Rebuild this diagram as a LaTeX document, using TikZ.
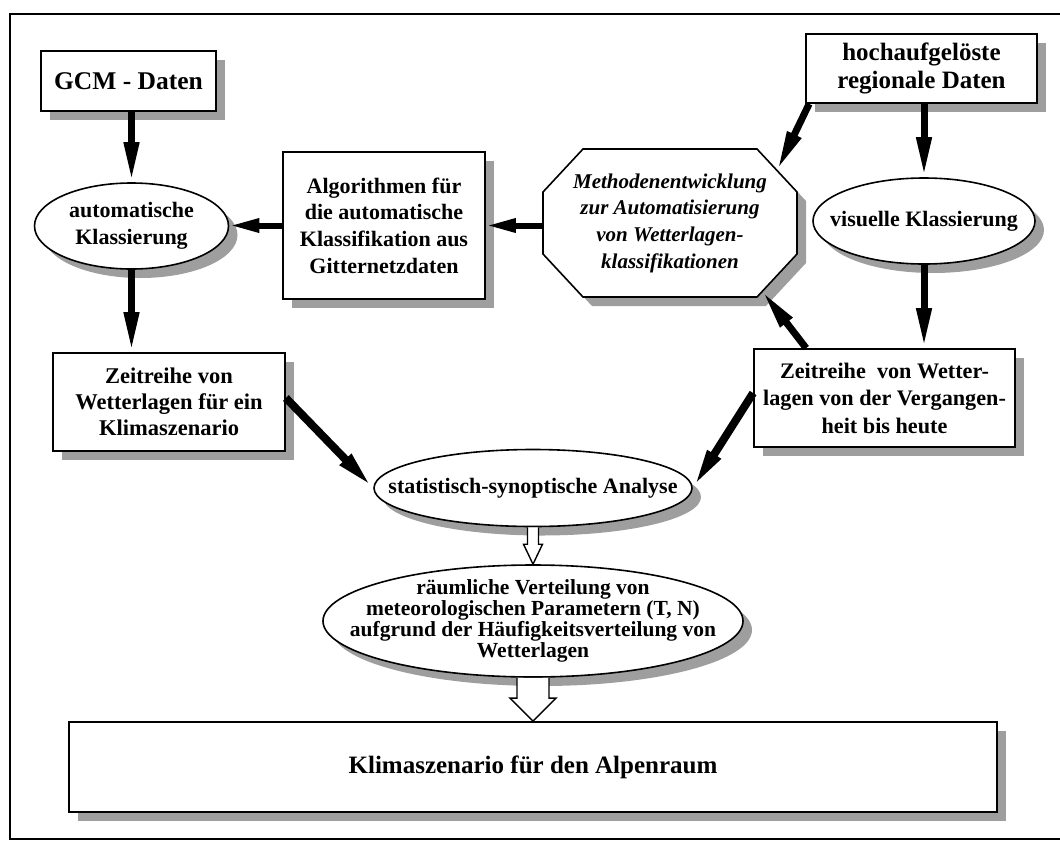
\documentclass[tikz,border=0pt]{standalone}
\usepackage{fontspec}
\setmainfont{Liberation Serif}
\usetikzlibrary{arrows.meta,shapes.geometric,shadows,calc}

\begin{document}
\begin{tikzpicture}[x=1pt,y=-1pt,
  shadowfill/.style={fill=black!38},
  dshadow/.style={drop shadow={shadow xshift=9pt,shadow yshift=-9pt,fill=black!38,opacity=1}},
  box/.style={draw,line width=1.8pt,fill=white,inner sep=0pt,align=center,font=\bfseries,dshadow},
  oval/.style={ellipse,draw,line width=1.6pt,fill=white,inner sep=0pt,dshadow},
  label text/.style={inner sep=0pt,align=center,font=\bfseries},
  flow/.style={line width=7pt,-{Triangle[length=40pt,width=14pt]}},
  flowh/.style={line width=6pt,-{Triangle[length=30pt,width=13pt]}},
  hollow/.style={draw,line width=1.4pt,fill=white,line join=miter}
]
\useasboundingbox (0,0) rectangle (1060,841);

% outer frame
\draw[line width=1.8pt] (10,14) rectangle (1085,839);

% rectangular boxes
\node[box,minimum width=175pt,minimum height=60pt,font=\bfseries\fontsize{25.5}{28}\selectfont]
  (gcm) at (128.5,81) {GCM - Daten};
\node[box,minimum width=231pt,minimum height=69pt,font=\bfseries\fontsize{25}{28}\selectfont]
  (hoch) at (921.5,68.5) {hochaufgelöste\\regionale Daten};
\node[box,minimum width=202pt,minimum height=147pt,font=\bfseries\fontsize{22}{26.7}\selectfont]
  (algo) at (384,225.5) {Algorithmen für\\die automatische\\Klassifikation aus\\Gitternetzdaten};
\node[box,minimum width=232pt,minimum height=98pt,font=\bfseries\fontsize{22.5}{26}\selectfont]
  (zl) at (169,402) {Zeitreihe von\\Wetterlagen für ein\\Klimaszenario};
\node[box,minimum width=261pt,minimum height=98pt,font=\bfseries\fontsize{22.2}{27.5}\selectfont]
  (zr) at (884.5,398) {Zeitreihe~ von Wetter-\\lagen von der Vergangen-\\heit bis heute};
\node[box,minimum width=928pt,minimum height=90pt,font=\bfseries\fontsize{25}{28}\selectfont]
  (klima) at (533,767) {Klimaszenario für den Alpenraum};

% octagon
\fill[shadowfill,shift={(9,9)}]
  (543,192) -- (583,149) -- (757,149) -- (797,192) -- (797,254) -- (757,297) -- (583,297) -- (543,254) -- cycle;
\draw[line width=1.6pt,fill=white]
  (543,192) -- (583,149) -- (757,149) -- (797,192) -- (797,254) -- (757,297) -- (583,297) -- (543,254) -- cycle;
\node[inner sep=0pt,minimum width=254pt,minimum height=148pt,align=center,
      font=\bfseries\itshape\fontsize{21}{26.7}\selectfont]
  (oct) at (670,223) {Methodenentwicklung\\zur Automatisierung\\von Wetterlagen-\\klassifikationen};
\coordinate (octNE) at (777,170.5);
\coordinate (octSE) at (762,291);

% ellipses
\node[oval,minimum width=194pt,minimum height=86pt] (auto) at (131.5,226) {};
\node[label text,font=\bfseries\fontsize{22}{26.5}\selectfont] (autoT) at (auto) {automatische\\Klassierung};
\node[oval,minimum width=222pt,minimum height=86pt] (vis) at (924,221) {};
\node[label text,font=\bfseries\fontsize{22}{26.5}\selectfont] (visT) at (vis) {visuelle Klassierung};
\node[oval,minimum width=318pt,minimum height=77pt] (stat) at (533,488) {};
\node[label text,font=\bfseries\fontsize{22}{26.5}\selectfont] (statT) at (stat) {statistisch-synoptische Analyse};
\node[oval,minimum width=420pt,minimum height=112pt] (raum) at (533,621) {};
\node[label text,font=\bfseries\fontsize{21.5}{18.8}\selectfont] (raumT) at (raum)
  {räumliche Verteilung von\\meteorologischen Parametern (T, N)\\aufgrund der Häufigkeitsverteilung von\\Wetterlagen};

% solid connectors
\draw[flow] (gcm.south -| auto.north) -- (auto.north);
\draw[flow] (hoch.south -| vis.north) -- (vis.north);
\draw[flow] ($(hoch.south west)+(4,0)$) -- (octNE);
\draw[flowh] (oct.west |- algo.east) -- (algo.east);
\draw[flowh] (algo.west) -- (algo.west -| auto.east);
\draw[flow] (auto.south) -- (auto.south |- zl.north);
\draw[flow] (vis.south) -- (vis.south |- zr.north);
\draw[flow] ($(zr.north west)+(53,0)$) -- (octSE);
\draw[flow,line width=8pt] ($(zl.east)+(0,-4)$) -- (stat.west);
\draw[flow,line width=8pt] ($(zr.west)+(0,-5)$) -- (stat.east);

% hollow connectors
\draw[hollow] ($(stat.south)+(-5.5,0)$) -- ($(raum.north)+(-5.5,-20)$) -- ($(raum.north)+(-9.5,-20)$)
  -- (raum.north) -- ($(raum.north)+(9.5,-20)$) -- ($(raum.north)+(5.5,-20)$) -- ($(stat.south)+(5.5,0)$);
\draw[hollow] ($(raum.south)+(-16,0)$) -- ($(klima.north)+(-16,-23)$) -- ($(klima.north)+(-23,-23)$)
  -- (klima.north) -- ($(klima.north)+(23,-23)$) -- ($(klima.north)+(16,-23)$) -- ($(raum.south)+(16,0)$);
\end{tikzpicture}
\end{document}
